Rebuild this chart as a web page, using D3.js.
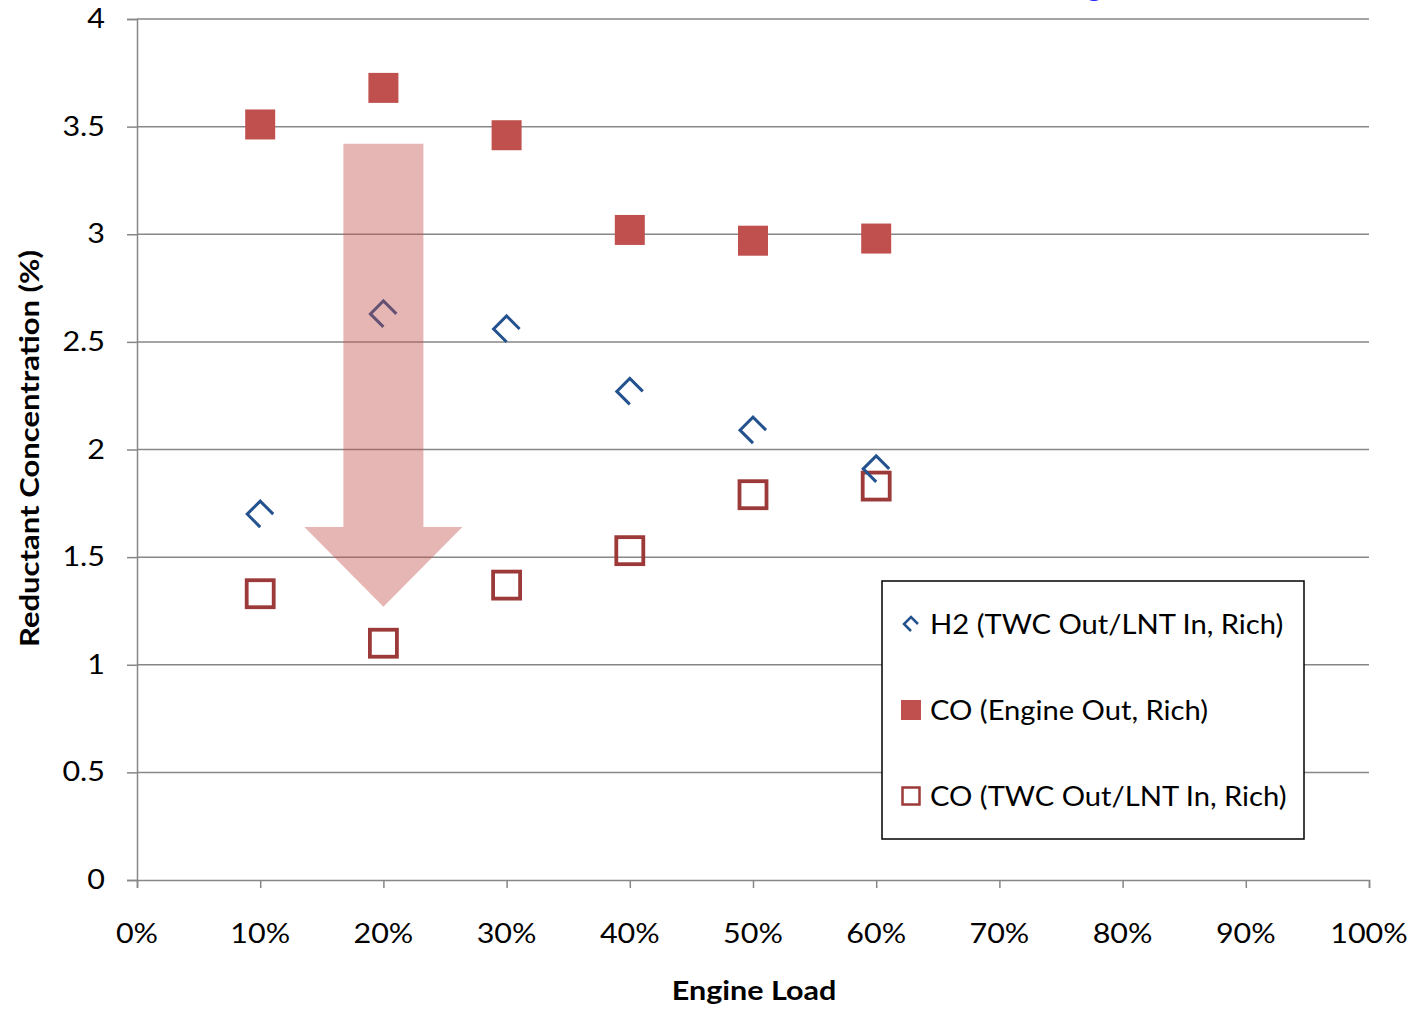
<!DOCTYPE html>
<html>
<head>
<meta charset="utf-8">
<script src="https://cdn.jsdelivr.net/npm/d3@7/dist/d3.min.js"></script>
<style>
  html, body { margin: 0; padding: 0; background: #fff; }
  svg { display: block; }
</style>
</head>
<body>
<svg id="chart" width="1412" height="1010"></svg>
<script>
// Engine load (fraction of full load) at each measured point
const loads = [0.1, 0.2, 0.3, 0.4, 0.5, 0.6];
// Reductant concentrations (%)
const h2TwcOut = [1.70, 2.63, 2.56, 2.27, 2.09, 1.91];
const coEngineOut = [3.51, 3.68, 3.46, 3.02, 2.97, 2.98];
const coTwcOut = [1.33, 1.10, 1.37, 1.53, 1.79, 1.83];
const seriesNames = ["H2 (TWC Out/LNT In, Rich)", "CO (Engine Out, Rich)", "CO (TWC Out/LNT In, Rich)"];
const xTicks = [0, 0.1, 0.2, 0.3, 0.4, 0.5, 0.6, 0.7, 0.8, 0.9, 1.0];
const yTicks = [0, 0.5, 1, 1.5, 2, 2.5, 3, 3.5, 4];
// Downward arrow: centre load, shaft top, head base and tip concentrations
const arrowLoad = 0.2;
const arrowLevels = [3.42, 1.64, 1.27];

const m = { left: 137, right: 1369, top: 19, bottom: 880 };
const font = "Lato, 'Open Sans', sans-serif";
const fs = 27;      // base font size
const wide = 1.13;  // horizontal stretch applied to text

const svg = d3.select("#chart");
const x = d3.scaleLinear().domain([0, 1]).range([m.left, m.right]);
const y = d3.scaleLinear().domain([0, 4]).range([m.bottom, m.top]);

const gridColor = "#878787";

// Writes a horizontally stretched text element anchored at (tx, ty)
function label(parent, tx, ty, str, opts = {}) {
  return parent.append("text")
    .attr("transform", `translate(${tx},${ty})${opts.rotate ? ` rotate(${opts.rotate})` : ""} scale(${opts.sx || wide},1)`)
    .attr("text-anchor", opts.anchor || "start")
    .attr("font-family", font).attr("font-size", opts.size || fs)
    .attr("font-weight", opts.bold ? "bold" : "normal")
    .attr("fill", "#000").text(str);
}

// Horizontal gridlines
svg.append("g").selectAll("line").data(yTicks.filter(d => d > 0)).join("line")
  .attr("x1", m.left).attr("x2", m.right)
  .attr("y1", d => y(d)).attr("y2", d => y(d))
  .attr("stroke", gridColor).attr("stroke-width", 1.5);

// Y axis
const yAxis = svg.append("g").attr("transform", `translate(${m.left},0)`)
  .call(d3.axisLeft(y).tickValues(yTicks).tickSize(10).tickFormat(""));
yAxis.select(".domain").attr("stroke", gridColor).attr("stroke-width", 1.5);
yAxis.selectAll(".tick line").attr("stroke", gridColor).attr("stroke-width", 1.5);
yTicks.forEach(v => label(svg, 105, y(v) + 9, d3.format("")(v), { anchor: "end" }));

// X axis
const xAxis = svg.append("g").attr("transform", `translate(0,${m.bottom})`)
  .call(d3.axisBottom(x).tickValues(xTicks).tickSize(8).tickFormat(""));
xAxis.select(".domain").attr("stroke", gridColor).attr("stroke-width", 1.5);
xAxis.selectAll(".tick line").attr("stroke", gridColor).attr("stroke-width", 1.5);
xTicks.forEach(v => label(svg, x(v), 943, d3.format(".0%")(v), { anchor: "middle" }));

// Axis titles
label(svg, (m.left + m.right) / 2 + 1, 1000, "Engine Load", { anchor: "middle", bold: true });
label(svg, 39, (m.top + m.bottom) / 2 - 1, "Reductant Concentration (%)", { anchor: "middle", bold: true, rotate: -90, sx: 1.15 });

// Stray blue glyph clipped at top edge
svg.append("ellipse").attr("cx", 1094).attr("cy", -4).attr("rx", 8).attr("ry", 5).attr("fill", "#1a1aff");

// Marker styles
const h2Color = "#24528f";
const coFill = "#c0504d";
const coStroke = "#9b3a38";
function h2Marker(sel, r, w) {
  // diamond outline with the lower-right edge left open
  sel.append("path")
    .attr("d", `M${r},0 L0,${-r} L${-r},0 L0,${r}`)
    .attr("fill", "none").attr("stroke", h2Color).attr("stroke-width", w)
    .attr("stroke-linejoin", "miter");
}

// CO engine-out: filled squares
const sFill = 30;
svg.append("g").selectAll("rect").data(loads).join("rect")
  .attr("x", (d) => x(d) - sFill / 2)
  .attr("y", (d, i) => y(coEngineOut[i]) - sFill / 2)
  .attr("width", sFill).attr("height", sFill)
  .attr("fill", coFill);

// CO after TWC: open squares
const sOpen = 27;
svg.append("g").selectAll("rect").data(loads).join("rect")
  .attr("x", (d) => x(d) - sOpen / 2)
  .attr("y", (d, i) => y(coTwcOut[i]) - sOpen / 2)
  .attr("width", sOpen).attr("height", sOpen)
  .attr("fill", "none").attr("stroke", coStroke).attr("stroke-width", 3.8);

// H2 markers
svg.append("g").selectAll("g").data(loads).join("g")
  .attr("transform", (d, i) => `translate(${x(d)},${y(h2TwcOut[i])})`)
  .each(function () { h2Marker(d3.select(this), 13, 3); });

// Translucent arrow annotation laid over the data
const [yTop, yHead, yTip] = arrowLevels.map(v => y(v));
const ax = x(arrowLoad);
svg.append("path")
  .attr("d", `M${ax - 40},${yTop} L${ax + 40},${yTop} L${ax + 40},${yHead} L${ax + 79},${yHead} L${ax},${yTip} L${ax - 79},${yHead} L${ax - 40},${yHead} Z`)
  .attr("fill", "#c0504d").attr("fill-opacity", 0.42);

// Legend
const lg = svg.append("g");
lg.append("rect").attr("x", 882).attr("y", 581).attr("width", 422).attr("height", 258)
  .attr("fill", "#fff").attr("stroke", "#000").attr("stroke-width", 1.5);
const rows = [624, 710, 796];
rows.forEach((ry, i) => {
  const g = lg.append("g").attr("transform", `translate(911,${ry})`);
  if (i === 0) h2Marker(g, 7, 2.5);
  else if (i === 1) g.append("rect").attr("x", -10).attr("y", -10).attr("width", 20).attr("height", 20).attr("fill", coFill);
  else g.append("rect").attr("x", -8.5).attr("y", -8.5).attr("width", 17).attr("height", 17).attr("fill", "#fff").attr("stroke", coStroke).attr("stroke-width", 2.5);
  label(lg, 930, ry + 10, seriesNames[i], { sx: 1.08 });
});
</script>
</body>
</html>
